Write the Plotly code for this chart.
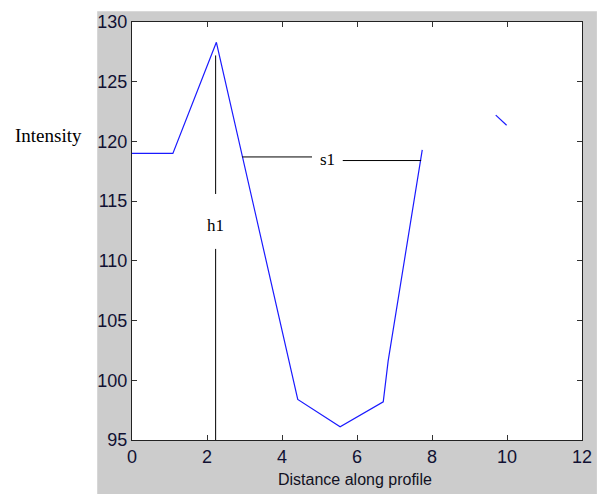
import plotly.graph_objects as go

# Intensity profile (None = gap)
profile_x = [0, 1.09, 2.25, 4.42, 5.55, 6.70, 6.83, 7.74, None, 9.70, 9.99]
profile_y = [119, 119, 128.3, 98.4, 96.1, 98.2, 101.6, 119.3, None, 122.2, 121.35]

# h1 marker (vertical line with gap for label)
h1_x = [2.23, 2.23, None, 2.23, 2.23]
h1_y = [95, 111.0, None, 115.6, 127.2]
h1_label = {"x": 2.23, "y": 113.0, "text": "h1"}

# s1 marker (horizontal line with gap for label)
s1_x = [2.94, 4.80, None, 5.62, 7.71]
s1_y = [118.7, 118.7, None, 118.4, 118.4]
s1_label = {"x": 5.2, "y": 118.5, "text": "s1"}

x_ticks = [0, 2, 4, 6, 8, 10, 12]
y_ticks = [95, 100, 105, 110, 115, 120, 125, 130]

fig = go.Figure()
fig.add_trace(go.Scatter(x=profile_x, y=profile_y, mode="lines",
                         line=dict(color="#1a1aff", width=1.2), connectgaps=False,
                         hoverinfo="skip"))
fig.add_trace(go.Scatter(x=h1_x, y=h1_y, mode="lines",
                         line=dict(color="black", width=1), connectgaps=False))
fig.add_trace(go.Scatter(x=s1_x, y=s1_y, mode="lines",
                         line=dict(color="black", width=1), connectgaps=False))

serif = "Liberation Serif, Times New Roman, serif"
sans = "Liberation Sans, Arial, sans-serif"

for lab in (h1_label, s1_label):
    fig.add_annotation(x=lab["x"], y=lab["y"], text=lab["text"], showarrow=False,
                       font=dict(family=serif, size=17, color="black"),
                       xanchor="center", yanchor="middle")

fig.add_annotation(xref="paper", yref="paper", x=(48 - 132) / 453, y=(440 - 130) / 425,
                   text="Intensity", showarrow=False,
                   font=dict(family=serif, size=19, color="black"),
                   xanchor="center", yanchor="middle")
fig.add_annotation(xref="paper", yref="paper", x=(356 - 132) / 453, y=(440 - 480) / 425,
                   text="Distance along profile", showarrow=False,
                   font=dict(family=sans, size=16, color="#111122"),
                   xanchor="center", yanchor="middle")

# gray figure background then white plot area
fig.add_shape(type="rect", xref="paper", yref="paper",
              x0=(97 - 132) / 453, x1=(600 - 132) / 453, y0=-0.3, y1=(440 - 4) / 425,
              fillcolor="#cccccc", line=dict(width=0), layer="below")
fig.add_shape(type="rect", xref="paper", yref="paper", x0=0, x1=1, y0=0, y1=1,
              fillcolor="white", line=dict(width=0), layer="below")

axis_common = dict(showgrid=False, zeroline=False, showline=True, linecolor="#222222",
                   linewidth=1, mirror="ticks", ticks="inside", ticklen=5,
                   tickcolor="#333333", tickfont=dict(family=sans, size=18, color="#111133"))

fig.update_xaxes(range=[0, 12], tickvals=x_ticks, ticktext=[str(v) for v in x_ticks],
                 **axis_common)
fig.update_yaxes(range=[95, 130], tickvals=y_ticks, ticktext=[str(v) for v in y_ticks],
                 **axis_common)

fig.update_layout(width=604, height=494, showlegend=False,
                  margin=dict(l=132, r=19, t=15, b=54),
                  paper_bgcolor="white", plot_bgcolor="white")

fig.write_html("out.html", config={"displayModeBar": False},
               post_script="document.body.style.margin='0px';document.body.style.padding='0px';")
